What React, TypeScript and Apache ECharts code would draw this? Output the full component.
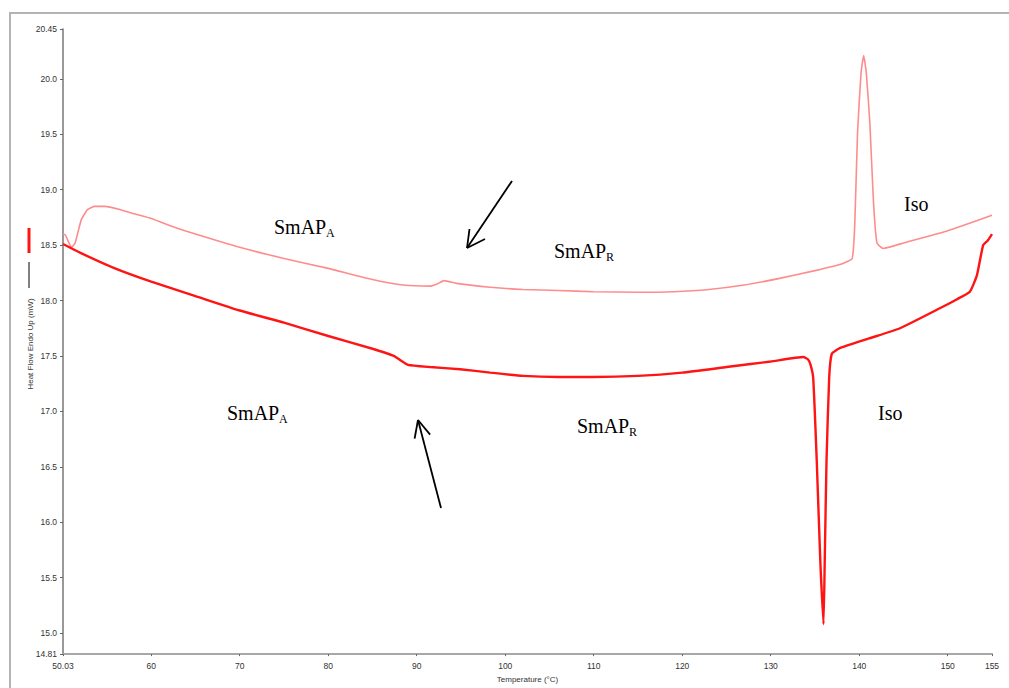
import React, { useEffect, useRef } from "react";
import * as echarts from "echarts";

// Upper (lighter) curve: temperature (°C) and heat flow (mW)
const upperT = [50.03, 50.3, 51.0, 51.4, 52.1, 52.8, 53.6, 54.8, 56.5, 58.2, 60, 62.7, 65, 70, 75, 80, 85, 88.5, 91.5, 92.3, 93.1, 94.5, 98.3, 102, 106, 110, 115, 119, 123, 127, 131, 135, 138, 139.2, 139.5, 139.8, 140.2, 140.5, 140.8, 141.2, 141.6, 142.0, 142.7, 145, 150, 155];
const upperQ = [18.6, 18.59, 18.48, 18.52, 18.73, 18.82, 18.85, 18.85, 18.82, 18.78, 18.74, 18.66, 18.6, 18.48, 18.38, 18.29, 18.19, 18.14, 18.13, 18.15, 18.18, 18.155, 18.12, 18.1, 18.09, 18.08, 18.075, 18.08, 18.1, 18.14, 18.2, 18.27, 18.33, 18.38, 18.7, 19.5, 20.05, 20.21, 20.05, 19.6, 18.9, 18.52, 18.47, 18.52, 18.63, 18.77];

// Lower (darker) curve
const lowerT = [50.03, 52, 55.9, 60, 65, 70, 75, 80, 85, 87.4, 88, 89, 91.5, 94.9, 98.3, 102, 106, 110, 115, 120, 125, 130, 133.7, 134.2, 134.5, 134.8, 135.2, 135.6, 135.96, 136.1, 136.3, 136.6, 136.9, 137.8, 141.2, 144.6, 149.1, 151, 152.5, 153.3, 154.0, 154.5, 155];
const lowerQ = [18.51, 18.43, 18.29, 18.17, 18.04, 17.91, 17.8, 17.68, 17.565, 17.5, 17.47, 17.42, 17.4, 17.38, 17.35, 17.32, 17.31, 17.31, 17.32, 17.35, 17.4, 17.45, 17.49, 17.47, 17.42, 17.3, 16.55, 15.65, 15.08, 15.65, 16.55, 17.3, 17.52, 17.57, 17.66, 17.75, 17.93, 18.01, 18.08, 18.23, 18.5, 18.54, 18.6];

const xTicks = [50.03, 60, 70, 80, 90, 100, 110, 120, 130, 140, 150, 155];
const yTicks = [14.81, 15.0, 15.5, 16.0, 16.5, 17.0, 17.5, 18.0, 18.5, 19.0, 19.5, 20.0, 20.45];

const xName = "Temperature (°C)";
const yName = "Heat Flow Endo Up (mW)";

const serif = "'Liberation Serif', 'Times New Roman', serif";
const sans = "'Liberation Sans', Arial, sans-serif";

function phase(x: number, y: number, main: string, sub: string) {
  const size = 20;
  const w = main === "Iso" ? 0 : 52;
  const els: any[] = [
    {
      type: "text",
      x,
      y,
      style: { text: main, font: `${size}px ${serif}`, fill: "#000", verticalAlign: "middle" },
    },
  ];
  if (sub) {
    els.push({
      type: "text",
      x: x + w,
      y: y + 6,
      style: { text: sub, font: `12px ${serif}`, fill: "#000", verticalAlign: "middle" },
    });
  }
  return els;
}

function fmtY(v: number) {
  if (Math.abs(v - 14.81) < 1e-6 || Math.abs(v - 20.45) < 1e-6) return String(v);
  return v.toFixed(1);
}

export default function App() {
  const ref = useRef<HTMLDivElement>(null);
  useEffect(() => {
    if (!ref.current) return;
    const chart = echarts.init(ref.current, null, { renderer: "svg" });
    const upper = upperT.map((t, i) => [t, upperQ[i]]);
    const lower = lowerT.map((t, i) => [t, lowerQ[i]]);
    const arrowStyle = { stroke: "#000", lineWidth: 1.8 };
    chart.setOption({
      animation: false,
      backgroundColor: "#fff",
      grid: { left: 63, top: 29, width: 929, height: 628 },
      xAxis: {
        type: "value",
        min: 50.03,
        max: 155,
        name: xName,
        nameLocation: "middle",
        nameGap: 19,
        nameTextStyle: { fontFamily: sans, fontSize: 8, color: "#333" },
        axisLine: { show: true, lineStyle: { color: "#a8a8a8", width: 2 } },
        axisTick: { show: true, length: 2, customValues: xTicks, lineStyle: { color: "#666" } },
        axisLabel: {
          customValues: xTicks,
          fontFamily: sans,
          fontSize: 8.5,
          color: "#333",
          margin: 7,
          formatter: (v: number) => String(v),
        },
        splitLine: { show: false },
      },
      yAxis: {
        type: "value",
        min: 14.81,
        max: 20.45,
        axisLine: { show: true, lineStyle: { color: "#777", width: 1.5 } },
        axisTick: { show: true, length: 3, customValues: yTicks, lineStyle: { color: "#666" } },
        axisLabel: {
          customValues: yTicks,
          fontFamily: sans,
          fontSize: 8.5,
          color: "#333",
          margin: 6,
          formatter: fmtY,
        },
        splitLine: { show: false },
      },
      series: [
        {
          type: "line",
          data: upper,
          showSymbol: false,
          smooth: 0.15,
          lineStyle: { color: "#ff8c8c", width: 1.6 },
          z: 3,
        },
        {
          type: "line",
          data: lower,
          showSymbol: false,
          smooth: 0.15,
          lineStyle: { color: "#ff1414", width: 2.4 },
          z: 4,
        },
      ],
      graphic: [
        {
          type: "polyline",
          shape: { points: [[10, 700], [10, 13], [1020, 13]] },
          style: { stroke: "#b4b4b4", lineWidth: 2, fill: null },
        },
        { type: "rect", shape: { x: 27.5, y: 228, width: 3, height: 25 }, style: { fill: "#ff1414" } },
        { type: "line", shape: { x1: 29, y1: 262, x2: 29, y2: 288 }, style: { stroke: "#000", lineWidth: 1 } },
        {
          type: "text",
          x: 30,
          y: 344,
          rotation: Math.PI / 2,
          style: { text: yName, font: `8px ${sans}`, fill: "#333", align: "center", verticalAlign: "middle" },
        },
        ...phase(274, 227, "SmAP", "A"),
        ...phase(554, 251, "SmAP", "R"),
        ...phase(904, 204, "Iso", ""),
        ...phase(227, 413, "SmAP", "A"),
        ...phase(577, 426, "SmAP", "R"),
        ...phase(878, 413, "Iso", ""),
        { type: "line", shape: { x1: 512, y1: 181, x2: 467, y2: 248 }, style: arrowStyle },
        { type: "line", shape: { x1: 467, y1: 248, x2: 469.5, y2: 229 }, style: arrowStyle },
        { type: "line", shape: { x1: 467, y1: 248, x2: 485, y2: 239 }, style: arrowStyle },
        { type: "line", shape: { x1: 441, y1: 508, x2: 418, y2: 420 }, style: arrowStyle },
        { type: "line", shape: { x1: 418, y1: 420, x2: 414.6, y2: 438.7 }, style: arrowStyle },
        { type: "line", shape: { x1: 418, y1: 420, x2: 430.1, y2: 434.6 }, style: arrowStyle },
      ],
    });
    return () => chart.dispose();
  }, []);
  return (
    <div
      ref={ref}
      style={{ position: "fixed", left: 0, top: 0, width: 1009, height: 688, background: "#fff" }}
    />
  );
}
